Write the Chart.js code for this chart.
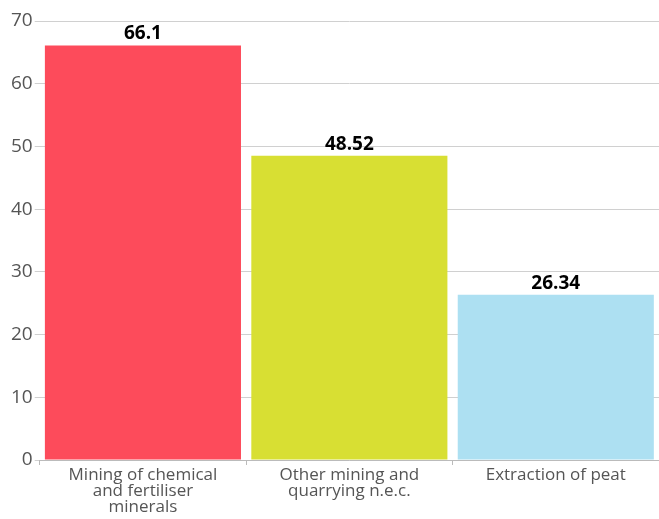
<!DOCTYPE html>
<html>
<head>
<meta charset="utf-8">
<script src="https://cdn.jsdelivr.net/npm/chart.js@4"></script>
<style>
  html, body { margin: 0; padding: 0; background: #fff; }
  #wrap { width: 659px; height: 519px; position: relative; }
</style>
</head>
<body>
<div id="wrap"><canvas id="barChart"></canvas></div>
<script>
const categories = [
  ["Mining of chemical", "and fertiliser", "minerals"],
  ["Other mining and", "quarrying n.e.c."],
  ["Extraction of peat"]
];
const values = [66.1, 48.52, 26.34];
const barColors = ["#fd4b5b", "#d8df33", "#ade0f2"];
const yTicks = [0, 10, 20, 30, 40, 50, 60, 70];

// etiquetas de valor encima de cada barra
const valueLabels = {
  id: "valueLabels",
  afterDatasetsDraw(chart) {
    const ctx = chart.ctx;
    const meta = chart.getDatasetMeta(0);
    ctx.save();
    ctx.font = "bold 19px 'Open Sans', sans-serif";
    ctx.fillStyle = "#000";
    ctx.textAlign = "center";
    ctx.textBaseline = "bottom";
    meta.data.forEach((bar, i) => {
      ctx.fillText(String(values[i]), bar.x, bar.y - 2);
    });
    ctx.restore();
  }
};

const ctx = document.getElementById("barChart").getContext("2d");
new Chart(ctx, {
  type: "bar",
  data: {
    labels: categories,
    datasets: [{
      data: values,
      backgroundColor: barColors,
      borderWidth: 0,
      barPercentage: 0.95,
      categoryPercentage: 1.0
    }]
  },
  options: {
    responsive: true,
    maintainAspectRatio: false,
    animation: false,
    layout: { padding: { top: 21, right: 0, left: 9, bottom: 2 } },
    plugins: {
      legend: { display: false },
      tooltip: { enabled: false }
    },
    scales: {
      y: {
        min: 0,
        max: 70,
        afterBuildTicks: axis => { axis.ticks = yTicks.map(v => ({ value: v })); },
        ticks: {
          color: "#555",
          font: { family: "'Open Sans', sans-serif", size: 19 },
          padding: 2
        },
        grid: { color: "#d0d0d0", tickLength: 5, lineWidth: 1 },
        border: { display: false }
      },
      x: {
        ticks: {
          color: "#555",
          font: { family: "'Open Sans', sans-serif", size: 17, lineHeight: "16px" },
          maxRotation: 0,
          autoSkip: false,
          padding: 2
        },
        grid: { drawOnChartArea: false, drawTicks: true, tickLength: 5, color: "#bbbbbb" },
        border: { display: true, color: "#bbbbbb" }
      }
    }
  },
  plugins: [valueLabels]
});
</script>
</body>
</html>
